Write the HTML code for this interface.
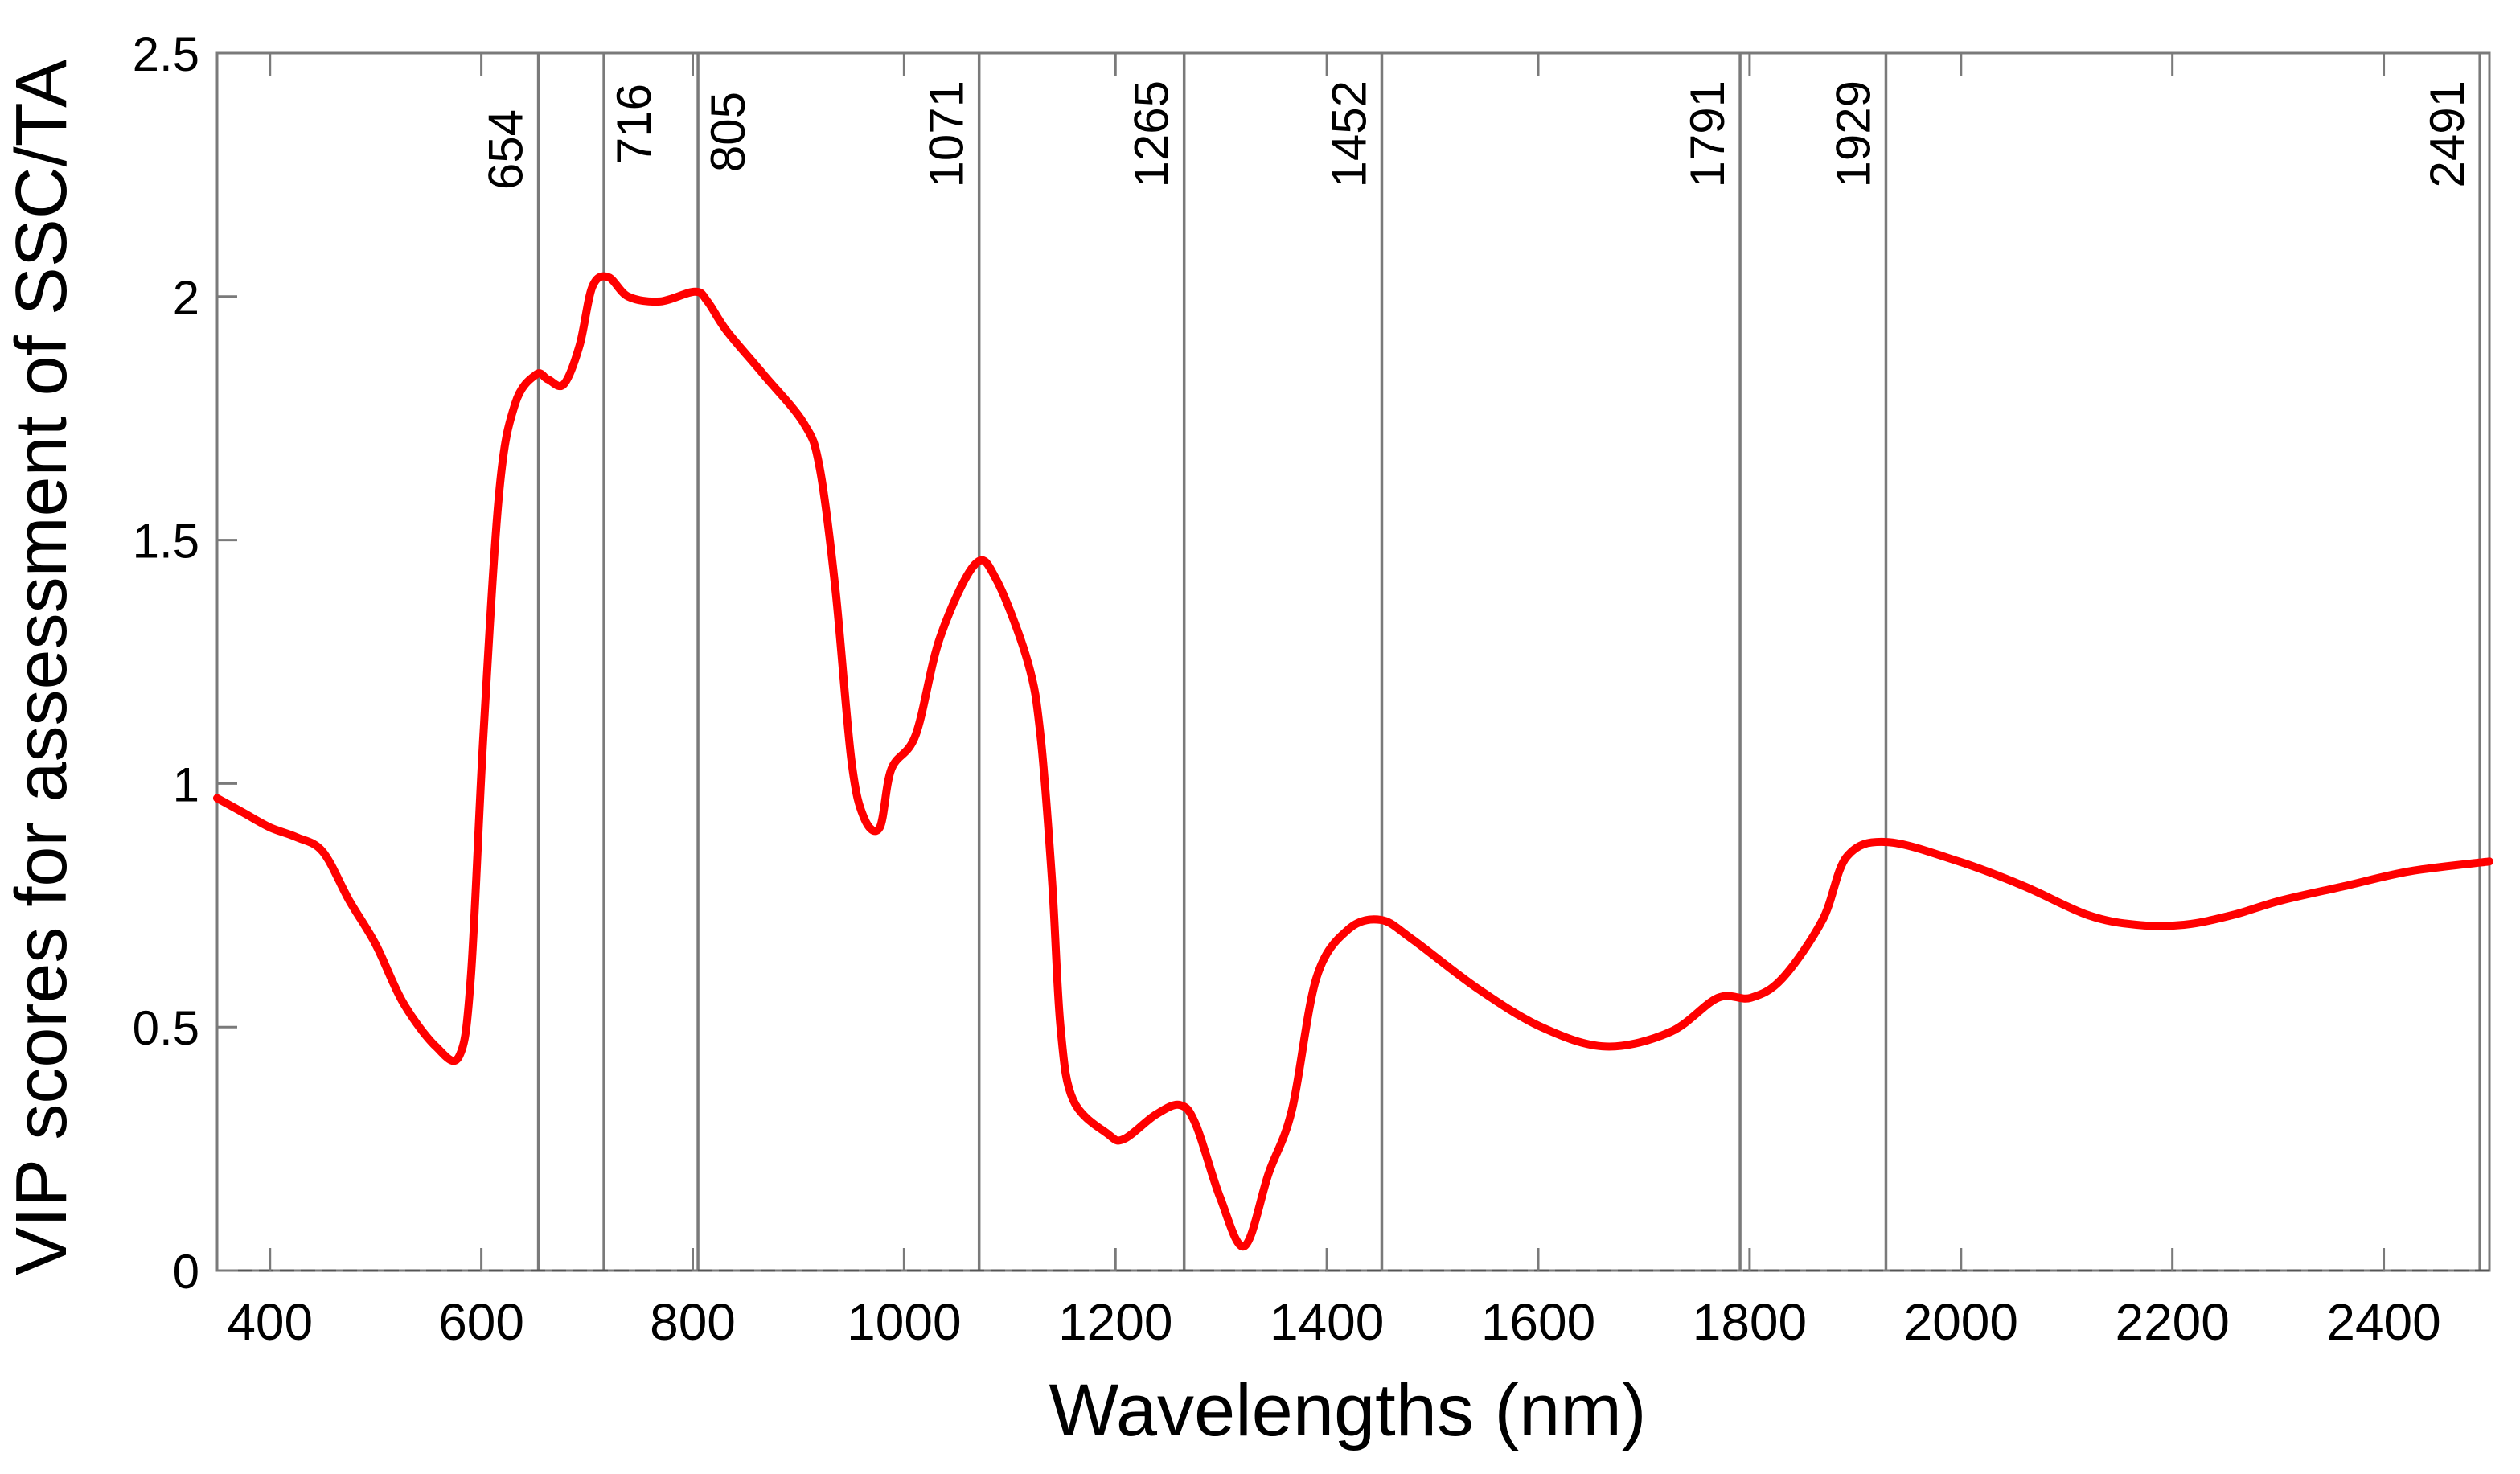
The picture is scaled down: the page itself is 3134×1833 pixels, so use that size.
<!DOCTYPE html>
<html><head><meta charset="utf-8"><style>
html,body{margin:0;padding:0;background:#fff;}
svg{display:block;font-family:"Liberation Sans",sans-serif;}
</style></head><body>
<svg id="chart" width="3134" height="1833" viewBox="0 0 3134 1833" xmlns="http://www.w3.org/2000/svg">
<rect x="0" y="0" width="3134" height="1833" fill="#fff"/>
<g id="grid"></g>
<g id="axes"></g>
<g id="series"></g>
<text x="1676" y="1785" font-size="92" text-anchor="middle" fill="#000">Wavelengths (nm)</text>
<text transform="translate(82,830) rotate(-90)" font-size="90" text-anchor="middle" fill="#000">VIP scores for assessment of SSC/TA</text>
</svg>
<script>
const xTicks = [400, 600, 800, 1000, 1200, 1400, 1600, 1800, 2000, 2200, 2400];
const yTicks = [0, 0.5, 1, 1.5, 2, 2.5];
const yTickLabels = ["0", "0.5", "1", "1.5", "2", "2.5"];
const markerWavelengths = [654, 716, 805, 1071, 1265, 1452, 1791, 1929, 2491];
const wavelengths = [350,375,400,425,450,475,500,526,557,579,590,602,617,632,652,663,678,693,705,720,739,769,802,814,832,867,905,920,935,950,962,977,988,1011,1034,1067,1087,1117,1129,1140,1148,1160,1193,1208,1238,1261,1276,1299,1322,1345,1367,1390,1420,1451,1481,1542,1603,1664,1725,1770,1801,1831,1869,1892,1930,1998,2059,2120,2166,2211,2257,2303,2364,2425,2500];
const vipScores = [0.97,0.94,0.91,0.89,0.86,0.76,0.67,0.55,0.46,0.44,0.6,1.1,1.6,1.78,1.84,1.83,1.82,1.9,2.02,2.04,2.0,1.99,2.01,1.99,1.93,1.84,1.74,1.65,1.4,1.05,0.93,0.91,1.03,1.1,1.3,1.45,1.42,1.25,1.1,0.8,0.5,0.35,0.28,0.27,0.32,0.34,0.3,0.15,0.05,0.2,0.33,0.6,0.7,0.72,0.68,0.58,0.5,0.46,0.49,0.56,0.56,0.6,0.72,0.85,0.88,0.84,0.79,0.73,0.71,0.71,0.73,0.76,0.79,0.82,0.84];

const NS = "http://www.w3.org/2000/svg";
const L = 270, R = 3096, T = 66, B = 1580;
const xMin = 350, xMax = 2500, yMin = 0, yMax = 2.5;
function xs(v){ return L + (v - xMin) / (xMax - xMin) * (R - L); }
function ys(v){ return B - (v - yMin) / (yMax - yMin) * (B - T); }
function mk(tag, attrs, parent){
  const e = document.createElementNS(NS, tag);
  for (const k in attrs) e.setAttribute(k, attrs[k]);
  parent.appendChild(e);
  return e;
}
const axes = document.getElementById('axes');
const grid = document.getElementById('grid');
const series = document.getElementById('series');
const gray = "#7a7a7a";

const frame = mk('rect', {x:L, y:T, width:R-L, height:B-T, fill:'none', stroke:gray, 'stroke-width':3}, axes);


const zl = mk('line', {x1:L, y1:B, x2:R, y2:B, stroke:'#555', 'stroke-width':3, 'stroke-dasharray':'18 8'}, axes);



xTicks.forEach((t, i) => {
  const x = xs(t);
  const tb = mk('line', {x1:x, y1:B, x2:x, y2:B-28, stroke:gray, 'stroke-width':3}, axes);
  
  
  const tt = mk('line', {x1:x, y1:T, x2:x, y2:T+28, stroke:gray, 'stroke-width':3}, axes);
  
  
  const lb = mk('text', {x:x, y:1666, 'font-size':64, 'text-anchor':'middle', fill:'#000'}, axes);
  lb.textContent = String(t);
  
  
});
yTicks.forEach((t, i) => {
  const y = ys(t);
  const tk = mk('line', {x1:L, y1:y, x2:L+25, y2:y, stroke:gray, 'stroke-width':3}, axes);
  
  
  const lb = mk('text', {x:248, y:y+22, 'font-size':60, 'text-anchor':'end', fill:'#000'}, axes);
  lb.textContent = yTickLabels[i];
  
  
});

markerWavelengths.forEach(w => {
  const x = xs(w);
  const ln = mk('line', {x1:x, y1:T, x2:x, y2:B, stroke:gray, 'stroke-width':3.5}, grid);
  
  
  const right = (w === 716 || w === 805);
  const bx = right ? x + 58 : x - 20;
  const top = w === 654 ? 136 : (w === 716 ? 104 : (w === 805 ? 114 : 100));
  const lb = mk('text', {transform:'translate(' + bx + ',' + top + ') rotate(-90)', 'font-size':60, 'text-anchor':'end', fill:'#000'}, grid);
  lb.textContent = String(w);
  
  
});

const pts = wavelengths.map((w, i) => [xs(w), ys(vipScores[i])]);
let d = 'M' + pts[0][0] + ',' + pts[0][1];
for (let i = 0; i < pts.length - 1; i++) {
  const p0 = pts[Math.max(0, i-1)], p1 = pts[i], p2 = pts[i+1], p3 = pts[Math.min(pts.length-1, i+2)];
  const c1x = p1[0] + (p2[0]-p0[0])/6, c1y = p1[1] + (p2[1]-p0[1])/6;
  const c2x = p2[0] - (p3[0]-p1[0])/6, c2y = p2[1] - (p3[1]-p1[1])/6;
  d += ' C' + c1x + ',' + c1y + ' ' + c2x + ',' + c2y + ' ' + p2[0] + ',' + p2[1];
}
const path = mk('path', {d:d, fill:'none', stroke:'#ff0000', 'stroke-width':10, 'stroke-linejoin':'round', 'stroke-linecap':'round'}, series);


</script>
</body></html>
